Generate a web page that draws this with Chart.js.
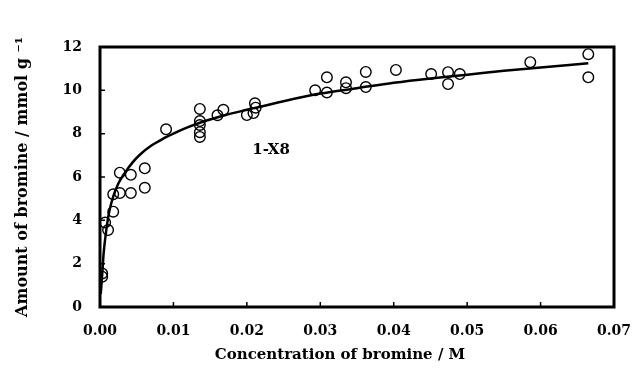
<!DOCTYPE html>
<html><head><meta charset="utf-8">
<script src="https://cdn.jsdelivr.net/npm/chart.js@4"></script>
<style>html,body{margin:0;padding:0;background:#fff}#wrap{width:633px;height:368px;position:relative}</style>
</head><body><div id="wrap"><canvas id="c"></canvas></div>
<script>
// Measured points: concentration of bromine (M) vs amount of bromine (mmol/g)
const concX = [0.0003, 0.0003, 0.0007, 0.0011, 0.0018, 0.0018, 0.0027, 0.0027, 0.0042, 0.0042, 0.0061, 0.0061,
  0.0090, 0.0136, 0.0136, 0.0136, 0.0136, 0.0136, 0.0160, 0.0168, 0.0200, 0.0209, 0.0211, 0.0212,
  0.0293, 0.0309, 0.0309, 0.0335, 0.0335, 0.0362, 0.0362, 0.0403, 0.0451, 0.0474, 0.0474, 0.0490,
  0.0586, 0.0665, 0.0665];
const amountY = [1.55, 1.40, 3.90, 3.55, 4.40, 5.20, 6.20, 5.26, 6.10, 5.26, 6.40, 5.50,
  8.20, 9.14, 8.58, 8.40, 8.07, 7.85, 8.85, 9.10, 8.86, 8.95, 9.40, 9.20,
  10.00, 10.60, 9.90, 10.37, 10.10, 10.85, 10.15, 10.94, 10.75, 10.84, 10.29, 10.75,
  11.30, 11.67, 10.60];
// Fitted curve
const fitX = [0.0001, 0.0003, 0.0005, 0.0008, 0.0012, 0.0018, 0.0025, 0.0034, 0.0045, 0.0055, 0.0070, 0.0085,
  0.0100, 0.0120, 0.0140, 0.0170, 0.0200, 0.0250, 0.0300, 0.0350, 0.0400, 0.0450, 0.0500, 0.0550, 0.0600, 0.0665];
const fitY = [0.6, 1.5, 2.5, 3.4, 4.3, 5.1, 5.7, 6.2, 6.7, 7.05, 7.45, 7.75,
  8.0, 8.3, 8.55, 8.85, 9.1, 9.5, 9.85, 10.1, 10.35, 10.55, 10.72, 10.9, 11.05, 11.25];
const xTicks = [0, 0.01, 0.02, 0.03, 0.04, 0.05, 0.06, 0.07];
const yTicks = [0, 2, 4, 6, 8, 10, 12];
const seriesLabel = '1-X8';
const xTitle = 'Concentration of bromine / M';
const yTitle = 'Amount of bromine / mmol g \u207B\u00B9';

const FONT = 'DejaVu Serif';
const framePlugin = {
  id: 'frame',
  afterDatasetsDraw(chart) {
    const {ctx, chartArea: a, scales: {x, y}} = chart;
    ctx.save();
    ctx.strokeStyle = '#000';
    ctx.lineWidth = 1.5;
    ctx.beginPath();
    yTicks.slice(1, -1).forEach(v => { const p = y.getPixelForValue(v); ctx.moveTo(a.left, p); ctx.lineTo(a.left + 5, p); });
    xTicks.slice(1, -1).forEach(v => { const p = x.getPixelForValue(v); ctx.moveTo(p, a.bottom); ctx.lineTo(p, a.bottom - 5); });
    ctx.stroke();
    ctx.lineWidth = 3;
    ctx.strokeRect(a.left, a.top, a.right - a.left, a.bottom - a.top);
    ctx.fillStyle = '#000';
    ctx.font = 'bold 15px "' + FONT + '"';
    ctx.textAlign = 'center';
    ctx.textBaseline = 'middle';
    ctx.fillText(seriesLabel, x.getPixelForValue(0.0233), y.getPixelForValue(7.25));
    ctx.fillText(xTitle, 340, 355);
    ctx.restore();
  }
};

new Chart(document.getElementById('c'), {
  type: 'scatter',
  data: {
    datasets: [
      { type: 'line', data: fitX.map((v, i) => ({x: v, y: fitY[i]})), borderColor: '#000', borderWidth: 2.5,
        pointRadius: 0, tension: 0.4, cubicInterpolationMode: 'monotone', fill: false },
      { data: concX.map((v, i) => ({x: v, y: amountY[i]})), pointRadius: 5.3, pointBorderWidth: 1.4,
        pointBorderColor: '#000', pointBackgroundColor: 'rgba(0,0,0,0)', showLine: false }
    ]
  },
  options: {
    responsive: true, maintainAspectRatio: false, animation: false, devicePixelRatio: 1,
    layout: { padding: { top: 47, right: 19, left: 0, bottom: 0 } },
    plugins: { legend: { display: false }, tooltip: { enabled: false } },
    scales: {
      x: {
        type: 'linear', min: 0, max: 0.07,
        afterBuildTicks: s => { s.ticks = xTicks.map(v => ({value: v})); },
        afterFit: s => { s.height = 61; s.paddingLeft = 0; s.paddingRight = 0; },
        grid: { display: false, drawTicks: false }, border: { display: false },
        ticks: { color: '#000', padding: 16, maxRotation: 0, font: { family: FONT, weight: 'bold', size: 14 },
          callback: v => Number(v).toFixed(2) }
      },
      y: {
        type: 'linear', min: 0, max: 12,
        afterBuildTicks: s => { s.ticks = yTicks.map(v => ({value: v})); },
        afterFit: s => { s.width = 100; s.paddingTop = 0; s.paddingBottom = 0; },
        grid: { display: false, drawTicks: false }, border: { display: false },
        ticks: { color: '#000', padding: 18, font: { family: FONT, weight: 'bold', size: 14 } },
        title: { display: true, text: yTitle, color: '#000', padding: { top: 13, bottom: 0 },
          font: { family: FONT, weight: 'bold', size: 16 } }
      }
    }
  },
  plugins: [framePlugin]
});
</script></body></html>
